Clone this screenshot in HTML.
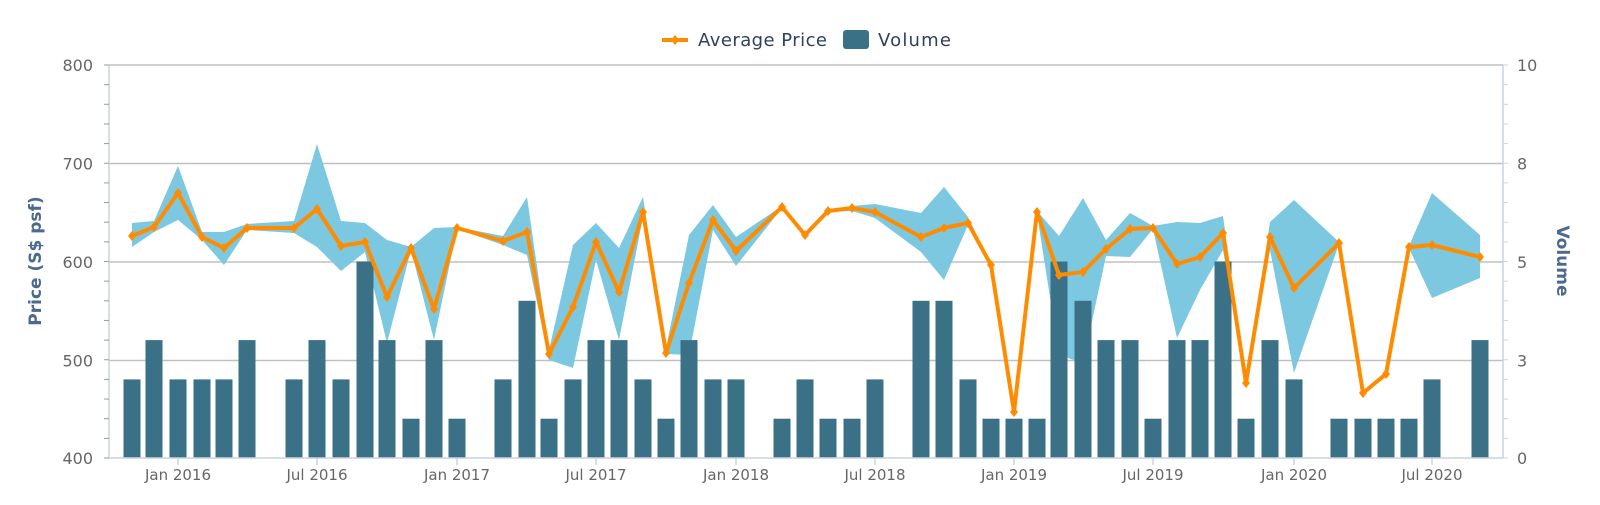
<!DOCTYPE html>
<html><head><meta charset="utf-8"><style>
html,body{margin:0;padding:0;background:#fff;}
svg{display:block;font-family:"DejaVu Sans","Liberation Sans",sans-serif;}
</style></head><body>
<svg id="c" width="1600" height="505" xmlns="http://www.w3.org/2000/svg"></svg>
<script>
var D=[
[132,236,223,247,2],[154,227,221,232,3],[178,193,166,220,2],[202,237,232,240,2],[224,248,232,265,2],[247,228,224,230,3],
[294,228,221,233,2],[317,209,144,247,3],[341,246,221,271,2],[365,242,223,252,5],[387,297,240,343,3],[411,248,247,250,1],
[434,309,228,340,3],[457,228,227,229,1],[503,241,236,245,2],[527,232,197,255,4],[549,354,350,360,1],[573,307,245,368,2],
[596,242,223,260,3],[619,292,248,340,3],[643,212,197,217,2],[666,353,348,354,1],[689,283,235,355,3],[713,220,205,230,2],
[736,251,237,266,2],[782,207,206,208,1],[805,235,234,236,2],[828,211,210,212,1],[852,208,206,211,1],[875,212,204,218,2],
[921,237,213,252,4],[944,228,187,280,4],[968,223,217,225,2],[991,265,264,266,1],[1014,412,411,413,1],[1037,212,211,214,1],
[1059,275,236,355,5],[1083,272,198,363,4],[1106,249,240,256,3],[1130,229,213,257,3],[1153,228,226,229,1],[1177,264,222,338,3],
[1200,257,223,290,3],[1223,233,216,250,5],[1246,383,382,384,1],[1270,237,222,250,3],[1294,288,200,373,2],[1339,243,242,244,1],
[1363,393,392,394,1],[1386,374,373,375,1],[1409,247,246,248,1],[1432,245,193,298,2],[1480,257,235,278,3]];
var L=109,R=1503,T=65,B=458;
var s='';
function vy(v){return B-(B-T)*v/10;}
[65,163.5,262,360.5].forEach(function(y){s+='<line x1="'+L+'" x2="'+R+'" y1="'+y+'" y2="'+y+'" stroke="#c0c0c0" stroke-width="1.5"/>';});
var up=D.map(function(d){return d[0]+','+d[2];}).join(' ');
var lo=D.slice().reverse().map(function(d){return d[0]+','+d[3];}).join(' ');
s+='<polygon points="'+up+' '+lo+'" fill="#7cc8e0"/>';
D.forEach(function(d){var y=vy(d[4]);s+='<rect x="'+(d[0]-8.5)+'" y="'+y+'" width="17" height="'+(B-y)+'" fill="#3b7187"/>';});
s+='<line x1="'+L+'" x2="'+L+'" y1="'+T+'" y2="'+B+'" stroke="#c8d4e2" stroke-width="1.5"/>';
s+='<line x1="'+R+'" x2="'+R+'" y1="'+T+'" y2="'+B+'" stroke="#c8d4e2" stroke-width="1.5"/>';
s+='<line x1="'+L+'" x2="'+R+'" y1="'+B+'" y2="'+B+'" stroke="#c8d4e2" stroke-width="1.5"/>';
for(var i=0;i<=20;i++){var y=T+(B-T)*i/20;s+='<line x1="'+(L-5)+'" x2="'+L+'" y1="'+y+'" y2="'+y+'" stroke="#999" stroke-width="1"/>';s+='<line x1="'+R+'" x2="'+(R+5)+'" y1="'+y+'" y2="'+y+'" stroke="#c8d4e2" stroke-width="1"/>';}
s+='<polyline points="'+D.map(function(d){return d[0]+','+d[1];}).join(' ')+'" fill="none" stroke="#ff8c00" stroke-width="4" stroke-linejoin="round"/>';
D.forEach(function(d){s+='<polygon points="'+d[0]+','+(d[1]-5)+' '+(d[0]+4)+','+d[1]+' '+d[0]+','+(d[1]+5)+' '+(d[0]-4)+','+d[1]+'" fill="#ff8c00"/>';});
[['800',65],['700',163.5],['600',262],['500',360.5],['400',458]].forEach(function(a){s+='<text x="93" y="'+(a[1]+6)+'" text-anchor="end" font-size="16" fill="#666">'+a[0]+'</text>';});
[['10',65],['8',163.5],['5',262],['3',360.5],['0',458]].forEach(function(a){s+='<text x="1517" y="'+(a[1]+6)+'" font-size="16" fill="#666">'+a[0]+'</text>';});
[['Jan 2016',178],['Jul 2016',317],['Jan 2017',457],['Jul 2017',596],['Jan 2018',736],['Jul 2018',875],['Jan 2019',1014],['Jul 2019',1153],['Jan 2020',1294],['Jul 2020',1432]].forEach(function(a){
s+='<line x1="'+a[1]+'" x2="'+a[1]+'" y1="'+B+'" y2="'+(B+7)+'" stroke="#c8d4e2" stroke-width="1.5"/>';
s+='<text x="'+a[1]+'" y="'+(B+22)+'" text-anchor="middle" font-size="15" fill="#666">'+a[0]+'</text>';});
s+='<text transform="translate(41,261) rotate(-90)" text-anchor="middle" font-size="17" font-weight="bold" fill="#4b6a8e">Price (S$ psf)</text>';
s+='<text transform="translate(1557,261) rotate(90)" text-anchor="middle" font-size="17" font-weight="bold" fill="#4b6a8e">Volume</text>';
s+='<line x1="662" x2="688" y1="40" y2="40" stroke="#ff8c00" stroke-width="4"/>';
s+='<polygon points="675,35 679,40 675,45 671,40" fill="#ff8c00"/>';
s+='<text x="698" y="46" font-size="18" fill="#2f4060" textLength="129">Average Price</text>';
s+='<rect x="843" y="30" width="26" height="19" rx="3" fill="#3b7187"/>';
s+='<text x="878" y="46" font-size="18" fill="#2f4060" textLength="73">Volume</text>';
document.getElementById('c').innerHTML=s;
</script>
</body></html>
